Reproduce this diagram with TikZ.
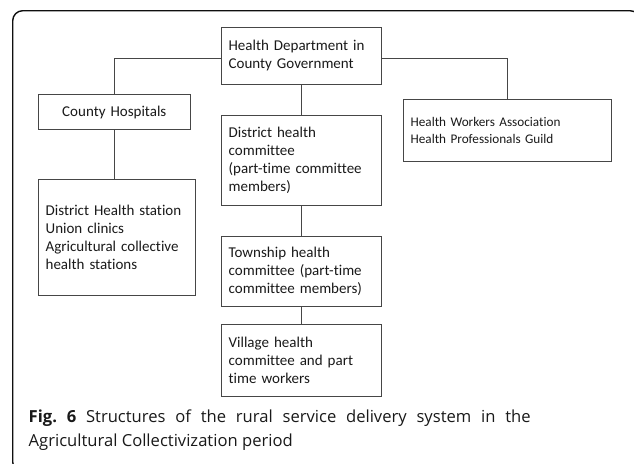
\documentclass[tikz,border=0pt]{standalone}
\usepackage{fontspec}
\newfontfamily\boxfont[Ligatures=CommonOff]{Carlito}
\newfontfamily\capfont{Open Sans}
\usetikzlibrary{positioning}
\definecolor{BoxLine}{RGB}{70,70,70}
\definecolor{BoxText}{RGB}{25,25,25}
\definecolor{FrameLine}{RGB}{15,15,15}

\begin{document}
\begin{tikzpicture}[x=1pt, y=-1pt,
    orgbox/.style={draw=BoxLine, line width=0.9pt, inner xsep=7.5pt, inner ysep=0pt,
                   align=left, text=BoxText, font={\boxfont\fontsize{15}{18}\selectfont}},
    link/.style={draw=BoxLine, line width=0.9pt},
    node distance=30pt,
]
\useasboundingbox (0,0) rectangle (634,463);
\clip (0,0) rectangle (634,463);
% outer frame, runs off the right and bottom edges
\draw[FrameLine, line width=1.4pt, rounded corners=10pt] (12.7,10.7) rectangle (640,472);

% centre column
\node[orgbox, anchor=north west, text width=145pt, minimum height=57.3pt] (hd) at (220.7,26.7)
  {Health Department in\\County Government};
\node[orgbox, below=29.7pt of hd, text width=145pt, minimum height=90.3pt] (dist)
  {District health\\committee\\(part-time committee\\members)};
\node[orgbox, below=30pt of dist, text width=145pt, minimum height=69.7pt] (town)
  {Township health\\committee (part-time\\committee members)};
\node[orgbox, below=17.7pt of town, text width=145pt, minimum height=72.3pt] (vill)
  {Village health\\committee and part\\time workers};

% left column
\node[orgbox, anchor=north west, align=center, text width=137.3pt, minimum height=35pt] (ch) at (37.7,94.3)
  {County Hospitals};
\node[orgbox, anchor=north west, text width=142.3pt, minimum height=116.3pt] (dhs) at (37.7,179)
  {District Health station\\Union clinics\\Agricultural collective\\health stations};

% right column
\node[orgbox, anchor=north west, text width=193.3pt, minimum height=61.7pt,
      font={\boxfont\fontsize{13.2}{17.6}\selectfont}] (hw) at (402.7,99)
  {Health Workers Association\\Health Professionals Guild};

\draw[link] ([yshift=-2.6pt]hd.west) -| (ch.north);
\draw[link] ([yshift=-2.6pt]hd.east) -| (hw.north);
\draw[link] (hd) -- (dist);
\draw[link] (ch.south) -- (ch.south |- dhs.north);
\draw[link] (dist) -- (town);
\draw[link] (town) -- (vill);

% caption, first line justified to full width
\node[anchor=base west, align=justify, text width=502pt, inner sep=0pt, text=BoxText,
      font={\capfont\fontsize{16.6}{24.5}\selectfont\frenchspacing}] (cap) at (28.5,422)
  {\textbf{Fig. 6} Structures of the rural service delivery system in the\linebreak
   Agricultural Collectivization period};
\end{tikzpicture}
\end{document}
